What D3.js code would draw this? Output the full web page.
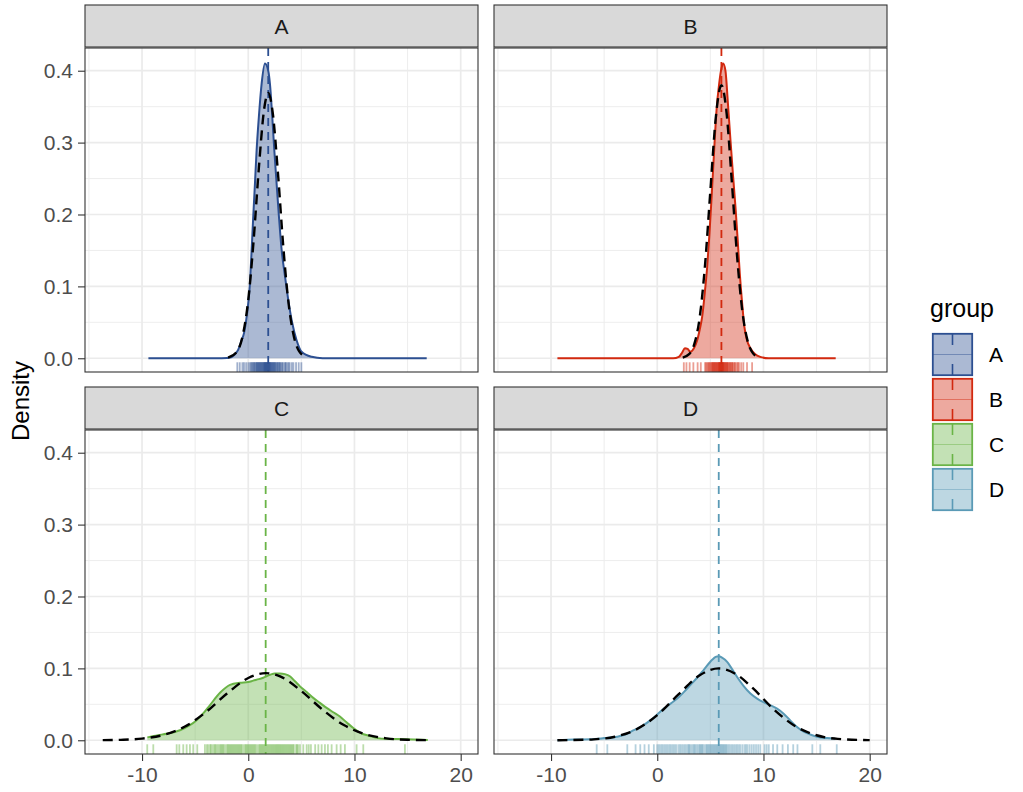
<!DOCTYPE html>
<html><head><meta charset="utf-8">
<script src="https://cdn.jsdelivr.net/npm/d3@7"></script>
<style>body{margin:0;background:#fff;} svg{display:block;font-family:"Liberation Sans",Arial,sans-serif;}</style>
</head><body><svg id="c" width="1023" height="792"></svg>
<script>
const groups = ["A","B","C","D"];
const colors = ["#2c4f91","#d2290f","#6ab446","#5a9ab6"];
const means = [1.88, 6.04, 1.64, 5.79];
const xTicks = [-10, 0, 10, 20];
const xMinor = [-15, -5, 5, 15];
const yTicks = [0, 0.1, 0.2, 0.3, 0.4];
const yMinor = [0.05, 0.15, 0.25, 0.35];

// kernel density (solid): [x, density]
const densA = [[-9.4,0],[-3,0],[-2,0.0005],[-1.72,0.001],[-1.3,0.005],[-0.94,0.012],[-0.63,0.025],[-0.4,0.035],[-0.15,0.058],[0.16,0.104],[0.32,0.151],[0.47,0.197],[0.63,0.243],[0.79,0.29],[1.0,0.336],[1.26,0.382],[1.57,0.41],[1.88,0.40],[2.04,0.382],[2.26,0.336],[2.45,0.29],[2.67,0.243],[2.89,0.197],[3.14,0.151],[3.46,0.114],[3.77,0.081],[4.14,0.049],[4.55,0.025],[5.02,0.009],[5.97,0.002],[7,0],[16.8,0]];
const densB = [[-9.4,0],[1.5,0],[2.03,0.002],[2.35,0.008],[2.6,0.014],[2.85,0.013],[3.13,0.009],[3.45,0.014],[3.76,0.025],[4.0,0.04],[4.23,0.058],[4.5,0.095],[4.7,0.127],[4.9,0.17],[5.1,0.22],[5.36,0.29],[5.58,0.345],[5.83,0.382],[6.0,0.40],[6.2,0.41],[6.42,0.40],[6.65,0.355],[6.89,0.304],[7.13,0.255],[7.36,0.211],[7.57,0.165],[7.77,0.118],[8.0,0.075],[8.2,0.044],[8.45,0.025],[8.77,0.014],[9.2,0.006],[9.7,0.002],[10.5,0],[16.8,0]];
const densC = [[-9.5,0.004],[-8.5,0.007],[-7.7,0.009],[-6.43,0.014],[-5.5,0.021],[-4.86,0.028],[-4.2,0.038],[-3.6,0.049],[-2.66,0.066],[-1.72,0.077],[-0.78,0.080],[0.0,0.081],[0.47,0.083],[1.0,0.085],[1.41,0.087],[2.04,0.091],[2.5,0.093],[2.98,0.093],[3.45,0.092],[3.92,0.089],[4.4,0.082],[4.87,0.075],[5.5,0.067],[6.12,0.059],[6.75,0.052],[7.38,0.045],[8.0,0.039],[8.63,0.033],[9.25,0.025],[9.89,0.017],[10.6,0.010],[11.46,0.006],[12.2,0.003],[13.0,0.002],[14.9,0.0015],[16.9,0.0005]];
const densD = [[-9.4,0],[-7.8,0.001],[-6.27,0.0014],[-5,0.003],[-3.76,0.005],[-3,0.008],[-2.2,0.014],[-1.4,0.02],[-0.63,0.028],[0,0.036],[0.62,0.044],[1.25,0.051],[1.88,0.058],[2.5,0.067],[3.13,0.077],[3.75,0.087],[4.38,0.098],[5.17,0.112],[5.5,0.116],[5.79,0.117],[6.1,0.115],[6.58,0.109],[7.0,0.10],[7.52,0.088],[8.1,0.076],[8.77,0.065],[9.4,0.058],[10.0,0.053],[10.6,0.049],[11.28,0.044],[11.9,0.037],[12.5,0.028],[13.1,0.019],[13.78,0.012],[14.4,0.008],[15.04,0.005],[16,0.003],[16.76,0.002]];

// normal reference curves (black dashed)
const normA = [[-1.9,0.0008],[-1,0.0106],[-0.5,0.033],[0,0.081],[0.5,0.163],[1,0.265],[1.5,0.347],[1.88,0.369],[2.3,0.342],[2.8,0.257],[3.3,0.155],[3.8,0.076],[4.3,0.030],[4.8,0.0096],[5.5,0.0014]];
const normB = [[2.4,0.001],[3,0.0057],[3.5,0.0203],[4,0.0574],[4.5,0.13],[5,0.233],[5.5,0.333],[6.04,0.38],[6.5,0.345],[7,0.25],[7.5,0.145],[8,0.0667],[8.5,0.0245],[9,0.0072],[9.6,0.0012]];
const normC = [[-13.7,0.00015],[-12,0.0006],[-10,0.0023],[-8,0.0073],[-6,0.0188],[-4,0.039],[-2,0.065],[0,0.0866],[1.64,0.0934],[3,0.0888],[5,0.0685],[7,0.0425],[9,0.0212],[11,0.0085],[13,0.0027],[15,0.0007],[16.9,0.00016]];
const normD = [[-9.4,0.00007],[-8,0.0003],[-6,0.0013],[-4,0.0049],[-2,0.0149],[0,0.0349],[2,0.0637],[4,0.0904],[5.79,0.100],[7.5,0.0912],[9,0.0724],[11,0.0426],[13,0.0196],[15,0.007],[17,0.0019],[20,0.0002]];

const rugA = [-1.03,-0.8,-0.55,-0.4,-0.2,0.0,0.15,0.25,0.35,0.4,0.5,0.55,0.6,0.7,0.75,0.8,0.85,0.9,0.95,1.0,1.05,1.1,1.15,1.2,1.25,1.3,1.35,1.4,1.45,1.5,1.52,1.55,1.6,1.62,1.65,1.7,1.72,1.75,1.8,1.82,1.85,1.9,1.92,1.95,2.0,2.02,2.05,2.1,2.15,2.2,2.25,2.3,2.35,2.4,2.45,2.5,2.55,2.6,2.7,2.75,2.8,2.9,2.95,3.0,3.1,3.2,3.25,3.4,3.5,3.55,3.7,3.8,3.9,4.1,4.25,4.5,4.75,5.0];
const rugB = [2.5,2.75,3.05,3.4,3.8,4.1,4.5,4.6,4.7,4.8,4.85,4.95,5.0,5.1,5.15,5.2,5.25,5.3,5.35,5.4,5.45,5.5,5.55,5.6,5.65,5.7,5.75,5.8,5.82,5.85,5.9,5.92,5.95,6.0,6.02,6.05,6.1,6.12,6.15,6.2,6.22,6.25,6.3,6.35,6.4,6.45,6.5,6.55,6.6,6.65,6.7,6.8,6.85,6.9,7.0,7.05,7.1,7.2,7.3,7.35,7.5,7.6,7.7,7.9,8.1,8.45,8.93];
const rugC = [-9.51,-8.94,-6.74,-6.49,-6.12,-5.8,-5.49,-5.18,-4.8,-4.08,-3.9,-3.77,-3.6,-3.5,-3.35,-3.2,-3.1,-3.0,-2.85,-2.7,-2.6,-2.5,-2.4,-2.3,-2.15,-2.0,-1.9,-1.8,-1.7,-1.6,-1.5,-1.4,-1.3,-1.2,-1.1,-1.0,-0.9,-0.8,-0.7,-0.6,-0.45,-0.3,-0.2,-0.1,0.0,0.1,0.2,0.3,0.4,0.5,0.6,0.7,0.85,1.0,1.1,1.2,1.3,1.4,1.5,1.6,1.7,1.8,1.9,2.0,2.1,2.2,2.3,2.4,2.5,2.6,2.7,2.8,2.9,3.0,3.1,3.2,3.3,3.4,3.5,3.6,3.7,3.8,3.9,4.0,4.1,4.2,4.3,4.5,4.6,4.7,4.87,5.18,5.5,5.7,5.9,6.3,6.6,6.91,7.22,7.5,7.85,8.32,8.7,9.1,10.2,10.83,14.75];
const rugD = [-5.7,-4.7,-2.82,-2.04,-1.6,-1.2,-0.8,-0.32,0.0,0.15,0.3,0.45,0.6,0.75,0.9,1.05,1.2,1.35,1.5,1.65,1.8,2.0,2.15,2.3,2.45,2.6,2.75,2.9,3.0,3.1,3.25,3.4,3.5,3.6,3.75,3.9,4.0,4.1,4.2,4.3,4.45,4.6,4.7,4.8,4.9,5.0,5.1,5.2,5.3,5.4,5.5,5.6,5.7,5.8,5.9,6.0,6.1,6.2,6.3,6.4,6.5,6.6,6.75,6.9,7.05,7.2,7.35,7.5,7.65,7.8,8.0,8.2,8.35,8.5,8.7,8.9,9.1,9.3,9.5,9.7,10.1,10.3,10.5,10.9,11.3,11.8,12.3,12.8,13.2,14.6,15.35,16.9];

const dens = [densA, densB, densC, densD];
const norms = [normA, normB, normC, normD];
const rugs = [rugA, rugB, rugC, rugD];

const svg = d3.select("#c");
const PW = 393, PH = 324, SH = 42;
const colX = [85, 494], rowY = [5, 387];

const x = d3.scaleLinear().domain([-15.37, 21.63]).range([0, PW]);
const y = d3.scaleLinear().domain([-0.0191, 0.4316]).range([PH, 0]);

const area = d3.area().x(d => x(d[0])).y0(y(0)).y1(d => y(d[1])).curve(d3.curveMonotoneX);
const line = d3.line().x(d => x(d[0])).y(d => y(d[1])).curve(d3.curveMonotoneX);

groups.forEach((g, i) => {
  const col = i % 2, row = Math.floor(i / 2);
  const px = colX[col], sy = rowY[row], py = sy + SH + 1;
  const c = colors[i];

  // strip
  svg.append("rect").attr("x", px).attr("y", sy).attr("width", PW).attr("height", SH)
    .attr("fill", "#d9d9d9").attr("stroke", "#333").attr("stroke-width", 1.1);
  svg.append("text").attr("x", px + PW / 2).attr("y", sy + SH / 2 + 7.5)
    .attr("text-anchor", "middle").attr("font-size", 21).attr("fill", "#1a1a1a").text(g);

  const p = svg.append("g").attr("transform", `translate(${px},${py})`);
  p.append("clipPath").attr("id", "clip" + i).append("rect").attr("width", PW).attr("height", PH);
  p.append("rect").attr("width", PW).attr("height", PH).attr("fill", "#fff");

  // grid
  p.selectAll(".xm").data(xMinor).enter().append("line")
    .attr("x1", d => x(d)).attr("x2", d => x(d)).attr("y1", 0).attr("y2", PH)
    .attr("stroke", "#ebebeb").attr("stroke-width", 0.9);
  p.selectAll(".ym").data(yMinor).enter().append("line")
    .attr("y1", d => y(d)).attr("y2", d => y(d)).attr("x1", 0).attr("x2", PW)
    .attr("stroke", "#ebebeb").attr("stroke-width", 0.9);
  p.selectAll(".xM").data(xTicks).enter().append("line")
    .attr("x1", d => x(d)).attr("x2", d => x(d)).attr("y1", 0).attr("y2", PH)
    .attr("stroke", "#ebebeb").attr("stroke-width", 1.7);
  p.selectAll(".yM").data(yTicks).enter().append("line")
    .attr("y1", d => y(d)).attr("y2", d => y(d)).attr("x1", 0).attr("x2", PW)
    .attr("stroke", "#ebebeb").attr("stroke-width", 1.7);

  const cg = p.append("g").attr("clip-path", `url(#clip${i})`);
  cg.append("path").datum(dens[i]).attr("d", area).attr("fill", c).attr("fill-opacity", 0.4);
  cg.append("path").datum(dens[i]).attr("d", line).attr("fill", "none").attr("stroke", c).attr("stroke-width", 2);
  // rug
  cg.selectAll(".rug").data(rugs[i]).enter().append("line")
    .attr("x1", d => x(d)).attr("x2", d => x(d)).attr("y1", PH).attr("y2", PH - 0.03 * PH)
    .attr("stroke", c).attr("stroke-opacity", 0.45).attr("stroke-width", 1.8);
  // vline at mean
  cg.append("line").attr("x1", x(means[i])).attr("x2", x(means[i])).attr("y1", 0).attr("y2", PH)
    .attr("stroke", c).attr("stroke-width", 1.8).attr("stroke-dasharray", "8,6");
  // normal dashed
  cg.append("path").datum(norms[i]).attr("d", line).attr("fill", "none").attr("stroke", "#000")
    .attr("stroke-width", 2.4).attr("stroke-dasharray", "10,6");

  p.append("rect").attr("width", PW).attr("height", PH).attr("fill", "none")
    .attr("stroke", "#333").attr("stroke-width", 1.1);

  if (col === 0) {
    const ay = p.append("g").call(d3.axisLeft(y).tickValues(yTicks).tickFormat(d3.format(".1f")).tickSize(7).tickPadding(5));
    ay.select(".domain").remove();
    ay.selectAll("line").attr("stroke", "#333").attr("stroke-width", 1.1);
    ay.selectAll("text").attr("font-size", 21).attr("fill", "#4d4d4d").attr("font-family", "Liberation Sans, Arial, sans-serif");
  }
  if (row === 1) {
    const ax = p.append("g").attr("transform", `translate(0,${PH})`)
      .call(d3.axisBottom(x).tickValues(xTicks).tickFormat(d => String(d)).tickSize(7).tickPadding(6));
    ax.select(".domain").remove();
    ax.selectAll("line").attr("stroke", "#333").attr("stroke-width", 1.1);
    ax.selectAll("text").attr("font-size", 21).attr("fill", "#4d4d4d").attr("font-family", "Liberation Sans, Arial, sans-serif");
  }
});

// y title
svg.append("text").attr("transform", "translate(29,401) rotate(-90)").attr("text-anchor", "middle")
  .attr("font-size", 24).attr("fill", "#000").text("Density");

// legend
svg.append("text").attr("x", 930).attr("y", 317).attr("font-size", 25).attr("fill", "#000").text("group");
const kx = 932, kw = 41, kh = 43, ky0 = 333, kstep = 45;
groups.forEach((g, i) => {
  const c = colors[i];
  const k = svg.append("g").attr("transform", `translate(${kx},${ky0 + i * kstep})`);
  k.append("rect").attr("x", 0.8).attr("y", 0.8).attr("width", kw - 1.6).attr("height", kh - 1.6)
    .attr("fill", c).attr("fill-opacity", 0.4).attr("stroke", c).attr("stroke-width", 1.8);
  k.append("line").attr("x1", 0).attr("x2", kw).attr("y1", kh / 2).attr("y2", kh / 2)
    .attr("stroke", c).attr("stroke-opacity", 0.45).attr("stroke-width", 1.2);
  k.append("line").attr("x1", kw / 2).attr("x2", kw / 2).attr("y1", 0).attr("y2", kh)
    .attr("stroke", c).attr("stroke-width", 1.6).attr("stroke-dasharray", "12,19");
  svg.append("text").attr("x", 989).attr("y", ky0 + i * kstep + kh / 2 + 7.5)
    .attr("font-size", 21).attr("fill", "#000").text(g);
});
</script>
</body></html>
